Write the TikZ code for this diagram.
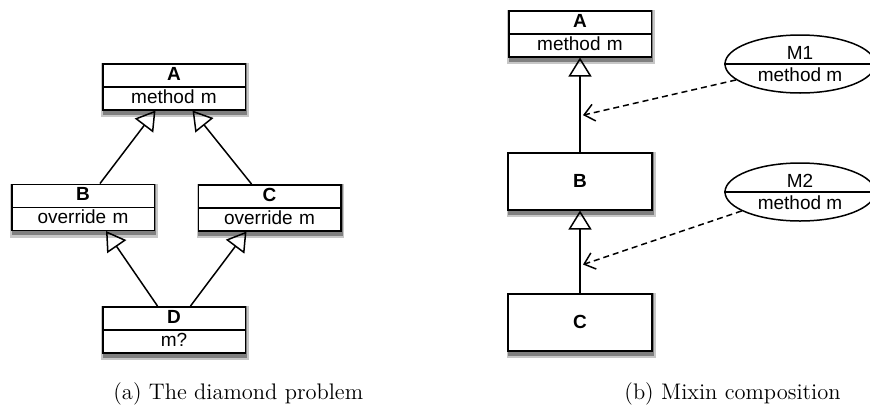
\documentclass[tikz,border=0pt]{standalone}
\usepackage{fontspec}
\newfontfamily\umlsans{Liberation Sans}
\usetikzlibrary{shapes.multipart,shapes.geometric,arrows.meta,calc,backgrounds}
\newcommand\rowstrut{\rule[-3pt]{0pt}{10.75pt}}

\begin{document}
\begin{tikzpicture}[x=0.5pt, y=-0.5pt, line width=0.75pt,
	every node/.style={font=\umlsans\fontsize{9.5}{11}\selectfont},
	cls/.style={rectangle split, rectangle split parts=2, draw, fill=white, text width=71.25pt, align=center, inner xsep=0pt, inner ysep=0pt, anchor=north},
	box/.style={draw, fill=white, minimum width=72pt, minimum height=28.5pt, anchor=north, font=\umlsans\bfseries\fontsize{9.5}{11}\selectfont},
	mixin/.style={ellipse, draw, fill=white, minimum width=75pt, minimum height=29pt, inner sep=0pt},
	inh/.style={-{Triangle[open, length=9.5pt, width=11.5pt]}},
	dep/.style={dash pattern=on 3pt off 2pt, -{Straight Barb[length=5pt, width=8.5pt]}},
	subcaption/.style={anchor=base west, font=\fontsize{11.25}{13}\selectfont}]
	\clip (0,0) rectangle (870,412);
	
	% (a) diamond
	\node[cls] (dA) at (174,63) {\rowstrut\textbf{A}\nodepart{two}\rowstrut method m};
	\node[cls] (dB) at (83,183.5) {\rowstrut\textbf{B}\nodepart{two}\rowstrut override m};
	\node[cls] (dC) at (269.5,184) {\rowstrut\textbf{C}\nodepart{two}\rowstrut override m};
	\node[cls] (dD) at (174,306) {\rowstrut\textbf{D}\nodepart{two}\rowstrut m?};
	
	\draw[inh] ([xshift=8.5pt]dB.north) -- ([xshift=-9.25pt]dA.south);
	\draw[inh] ([xshift=-9pt]dC.north) -- ([xshift=9.25pt]dA.south);
	\draw[inh] ([xshift=-8.25pt]dD.north) -- ([xshift=11.5pt]dB.south);
	\draw[inh] ([xshift=8.25pt]dD.north) -- ([xshift=-11.5pt]dC.south);
	
	% (b) mixins
	\node[cls] (xA) at (580,10) {\rowstrut\textbf{A}\nodepart{two}\rowstrut method m};
	\node[box] (xB) at (580,152) {B};
	\node[box] (xC) at (580,293) {C};
	
	\draw[inh] (xB.north) -- (xA.south);
	\draw[inh] (xC.north) -- (xB.south);
	
	\foreach \m/\y in {1/64, 2/192}
	{
		\node[mixin] (m\m) at (800,\y) {};
		\draw (m\m.west) -- (m\m.east);
		\node (m\m top) at ($(m\m.center)+(0,-11)$) {M\m};
		\node (m\m bot) at ($(m\m.center)+(0,11)$) {method m};
	}
	
	\coordinate (j1) at ($(xA.south)!0.61!(xB.north)$);
	\coordinate (j2) at ($(xB.south)!0.655!(xC.north)$);
	\draw[dep] (m1.194) -- ([xshift=1.5pt]j1);
	\draw[dep] (m2.198) -- ([xshift=1.5pt]j2);
	
	% shadows under the boxes
	\begin{scope}[on background layer]
		\foreach \n in {dA,dB,dC,dD,xA,xB,xC}
		{
			\fill[black!22] ([xshift=-0.3pt,yshift=-3.4pt]\n.south west) rectangle ([xshift=1.4pt]\n.north east);
			\fill[black!50] ([xshift=0.3pt,yshift=-2.2pt]\n.south west) rectangle ([xshift=0.7pt]\n.north east);
		}
	\end{scope}
	
	% captions
	\node[subcaption] (capa) at (106,399) {(a) The diamond problem};
	\node[subcaption] (capb) at (617,399) {(b) Mixin composition};
\end{tikzpicture}
\end{document}
